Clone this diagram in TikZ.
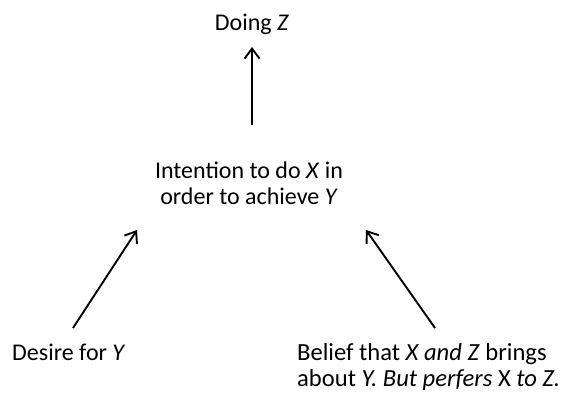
\documentclass[tikz,border=0pt]{standalone}
\usepackage{fontspec}
\setmainfont{Carlito}
\usetikzlibrary{arrows.meta}
\begin{document}
\begin{tikzpicture}[x=1pt,y=-1pt,
  lbl/.style={font=\fontsize{24}{26}\selectfont, inner sep=0pt, anchor=base},
  lblb/.style={font=\fontsize{24.6}{26.5}\selectfont, inner sep=0pt},
  arr/.style={line width=1.9pt, -{Straight Barb[length=10pt,width=15pt,line width=1.9pt]}}]
\useasboundingbox (0,0) rectangle (564,395);
\node[lbl] (doing) at (252,31) {Doing \textit{Z}};
\node[lbl, align=center, anchor=base] (intent) at (249,205) {Intention to do \textit{X} in\\order to achieve \textit{Y}};
\node[lbl, anchor=base west] (desire) at (12,360) {Desire for \textit{Y}};
\node[lblb, anchor=base west, align=left] (belief) at (297,386.5) {Belief that \textit{X and Z} brings\\about \textit{Y. But perfers} X \textit{to Z.}};
\coordinate (c1) at (252,125);
\coordinate (c2) at (252,47);
\coordinate (l1) at (73,328);
\coordinate (l2) at (137,230);
\coordinate (r1) at (435,328);
\coordinate (r2) at (366,230);
\draw[arr] (c1) -- (c2);
\draw[arr] (l1) -- (l2);
\draw[arr] (r1) -- (r2);
\end{tikzpicture}
\end{document}
